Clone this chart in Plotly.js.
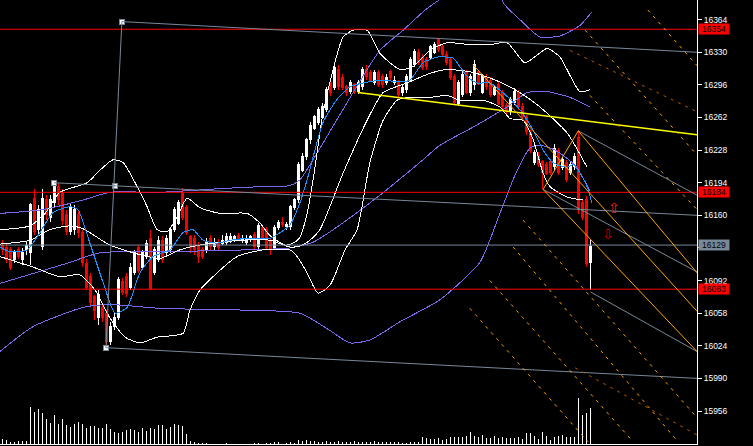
<!DOCTYPE html>
<html><head><meta charset="utf-8">
<script src="https://cdn.plot.ly/plotly-3.0.1.min.js"></script>
<style>html,body{margin:0;padding:0;background:#000;overflow:hidden}#chart{width:753px;height:446px}#chart .scatterlayer path,#chart .boxlayer path,#chart .barlayer path{shape-rendering:crispEdges}</style>
</head><body><div id="chart"></div>
<script>
// ---- bar data (index 0..147) ----
const barOpen = [16129,16126,16124,16114,16124,16114,16124,16121,16178,16145,
16127,16176,16158,16173,16190,16183,16161,16143,16145,16161,
16142,16110,16096,16075,16053,16064,16058,16028,16044,16054,
16091,16096,16085,16100,16126,16106,16117,16136,16100,16114,
16134,16121,16124,16145,16152,16183,16168,16138,16136,16129,
16124,16124,16136,16127,16132,16131,16132,16134,16135,16139,
16134,16132,16135,16140,16127,16147,16145,16134,16126,16147,
16153,16148,16148,16168,16176,16207,16221,16239,16251,16257,
16262,16270,16299,16293,16312,16304,16294,16289,16296,16289,
16294,16312,16309,16298,16309,16305,16298,16310,16298,16299,
16288,16291,16301,16317,16330,16325,16322,16325,16330,16343,
16336,16328,16322,16305,16277,16286,16309,16288,16296,16310,
16288,16304,16301,16286,16296,16288,16275,16268,16278,16288,
16273,16263,16246,16215,16223,16216,16213,16216,16211,16228,
16210,16215,16205,16211,16241,16173,16176,16111];
const barHigh = [16134,16131,16127,16124,16127,16126,16132,16173,16187,16171,
16187,16181,16181,16195,16194,16187,16166,16173,16171,16166,
16145,16114,16100,16077,16082,16069,16061,16049,16058,16096,
16095,16100,16110,16124,16129,16124,16134,16145,16127,16138,
16138,16140,16148,16169,16176,16189,16171,16140,16140,16132,
16127,16136,16140,16136,16135,16139,16142,16142,16140,16142,
16139,16139,16140,16143,16152,16150,16148,16136,16150,16155,
16158,16153,16171,16178,16216,16225,16241,16257,16265,16273,
16277,16294,16301,16317,16317,16307,16296,16301,16298,16301,
16315,16317,16312,16312,16312,16307,16307,16312,16305,16301,
16296,16307,16325,16333,16333,16328,16325,16338,16341,16345,
16338,16331,16325,16307,16301,16310,16312,16307,16322,16312,
16307,16307,16304,16296,16299,16291,16277,16283,16293,16291,
16277,16265,16249,16228,16226,16218,16216,16218,16234,16230,
16221,16218,16216,16225,16249,16176,16180,16134];
const barLow = [16119,16110,16103,16110,16114,16108,16119,16108,16139,16140,
16124,16155,16153,16169,16171,16150,16139,16139,16140,16136,
16106,16082,16064,16051,16046,16049,16023,16025,16040,16051,
16077,16075,16082,16098,16100,16103,16114,16082,16098,16111,
16110,16117,16121,16143,16150,16155,16139,16121,16119,16110,
16114,16121,16124,16124,16124,16129,16129,16131,16132,16134,
16131,16129,16132,16124,16124,16134,16124,16119,16124,16145,
16148,16145,16145,16166,16173,16205,16218,16234,16249,16254,
16260,16268,16284,16291,16291,16291,16284,16286,16286,16286,
16291,16301,16299,16296,16294,16293,16296,16301,16296,16283,
16284,16288,16299,16315,16317,16312,16312,16322,16328,16330,
16325,16317,16301,16275,16275,16283,16286,16284,16291,16296,
16286,16291,16283,16284,16275,16270,16265,16265,16275,16270,
16260,16244,16225,16213,16210,16187,16202,16202,16207,16202,
16207,16195,16202,16207,16161,16155,16106,16082];
const barClose = [16124,16114,16106,16121,16117,16121,16129,16171,16143,16166,
16178,16161,16176,16194,16176,16155,16143,16168,16166,16142,
16111,16085,16069,16061,16077,16054,16028,16044,16054,16093,
16080,16079,16106,16121,16103,16121,16131,16084,16124,16134,
16114,16136,16145,16166,16173,16158,16142,16126,16124,16117,
16117,16132,16127,16132,16126,16134,16138,16138,16138,16136,
16136,16136,16138,16127,16149,16136,16126,16124,16147,16153,
16150,16150,16169,16176,16213,16221,16239,16254,16263,16270,
16273,16291,16288,16314,16294,16293,16288,16298,16289,16298,
16312,16305,16301,16309,16296,16296,16304,16304,16301,16286,
16293,16305,16322,16331,16319,16314,16315,16336,16338,16333,
16328,16319,16304,16278,16299,16307,16288,16305,16317,16298,
16305,16294,16286,16293,16277,16273,16268,16281,16289,16273,
16263,16247,16228,16226,16213,16205,16204,16205,16230,16205,
16218,16197,16213,16221,16166,16158,16110,16127];
const barVolume = [50,43,23,23,33,33,33,367,323,353,
313,253,213,293,203,253,193,173,203,223,
203,163,183,183,163,163,203,153,123,113,
123,143,153,143,123,163,133,163,153,193,
193,153,173,203,193,183,103,33,23,13,
13,13,0,0,0,0,13,0,0,0,
0,0,0,13,13,0,13,13,23,23,
0,13,23,13,43,30,40,30,30,20,
20,30,20,20,30,20,20,20,30,20,
20,20,20,30,20,20,20,20,20,20,
13,13,23,23,23,73,63,53,53,63,
43,53,73,73,73,73,83,123,83,73,
93,63,63,83,63,73,63,63,63,73,
53,113,113,83,53,123,83,43,73,83,
93,73,73,73,463,293,313,363];
const barIndex = barClose.map((_, i) => i);

// ---- indicator lines (bar index, price) ----
const maFastIdx = [-0.7,1.8,6.1,9.3,12.6,16.8,18.8,21.8,25.1,28.1,31.1,34.3,37.6,41.8,45.1,47.6,50.1,53.6,56.8,61.8,66.8,68.6,71.8,74.3,76.1,80.1,83.6,86.8,90.1,95.1,99.3,101.8,105.1,108.6,111.1,112.6,116.1,118.6,121.8,126.1,129.3,132.6,135.1,137.6,141.1,142.6,144.3,146.1,147.3];
const maFastVal = [16127,16122,16124,16142,16163,16169,16166,16131,16090,16058,16064,16100,16117,16124,16142,16145,16134,16131,16134,16136,16136,16140,16150,16173,16197,16257,16281,16294,16298,16301,16299,16301,16319,16325,16325,16324,16305,16298,16298,16284,16270,16249,16228,16215,16210,16213,16204,16190,16173];

const bbLongUpIdx = [-0.7,10.1,20.1,26.8,39.3,55.1,65.1,71.8,74.3,77.6,84.3,94.3,100.1,105.6,109.3,116.8,123.1,125.6,129.3,134.3,139.3,144.3,147.3];
const bbLongUpVal = [16162,16166,16176,16184,16184,16188,16190,16191,16197,16218,16265,16332,16353,16374,16385,16405,16395,16379,16364,16346,16347,16358,16372];
const bbLongMidIdx = [-0.7,16.1,24.3,39.3,61.1,71.8,77.6,82.6,94.3,105.1,109.3,117.6,126.1,131.1,136.1,141.8,146.8];
const bbLongMidVal = [16089,16110,16121,16122,16124,16126,16132,16145,16181,16218,16233,16252,16273,16288,16289,16283,16273];
const bbLongLowIdx = [-0.7,7.6,20.1,26.8,39.3,61.8,74.3,81.8,86.8,91.8,99.3,109.3,119.3,124.3,128.1,131.8,134.3,138.1,143.1,146.8];
const bbLongLowVal = [16018,16044,16064,16067,16063,16061,16058,16040,16027,16030,16049,16072,16111,16162,16202,16230,16233,16228,16212,16186];

const bbUpIdx = [-0.7,6.8,10.6,14.3,21.1,24.3,27.6,30.1,33.6,36.1,38.6,41.1,43.6,46.1,49.3,54.3,61.1,64.3,66.8,70.6,72.6,74.3,76.1,77.6,80.1,82.6,85.1,87.6,91.1,94.3,99.3,102.6,106.8,111.1,116.8,121.8,126.1,130.6,136.1,139.3,144.3,146.8];
const bbUpVal = [16145,16149,16162,16184,16194,16207,16218,16215,16190,16169,16145,16143,16158,16178,16168,16162,16162,16152,16139,16129,16131,16137,16162,16197,16267,16312,16346,16353,16353,16329,16312,16315,16332,16340,16338,16338,16340,16319,16334,16325,16289,16291];
const bbMidIdx = [-0.7,6.8,11.8,16.8,20.1,26.8,34.3,39.3,44.3,49.3,59.3,66.8,71.8,74.3,76.8,79.3,85.1,91.1,95.1,101.1,106.8,111.1,117.6,124.3,129.3,134.3,141.1,146.1];
const bbMidVal = [16130,16134,16145,16149,16146,16129,16119,16115,16124,16129,16134,16134,16127,16128,16134,16145,16204,16259,16288,16298,16308,16312,16309,16299,16288,16273,16246,16210];
const bbLowIdx = [-0.7,7.6,14.3,19.3,23.1,26.8,30.6,34.3,38.6,45.1,46.8,49.3,51.8,58.6,65.1,71.8,73.6,76.1,78.8,81.8,85.6,88.6,91.8,95.1,98.6,101.8,106.8,111.1,114.3,120.1,124.3,126.8,130.1,132.6,135.1,136.8,141.1,145.1];
const bbLowVal = [16117,16106,16096,16098,16082,16053,16033,16027,16033,16037,16061,16082,16093,16117,16124,16124,16117,16100,16079,16087,16124,16145,16215,16259,16280,16283,16283,16285,16280,16280,16273,16261,16259,16239,16204,16190,16179,16176];

// ---- drawn objects: [x0, y0, x1, y1] in (bar index, price) ----
const redLevels = [16354, 16184, 16083];
const bidLevel = 16129;
const grayTrend = [[29.8,16362,173.6,16330],[29.8,16362,25.8,16022],[12.8,16194,173.6,16160],[25.8,16022,173.6,15990],[143.9,16248,173.6,16181],[135.1,16187,173.6,16101],[147,16080,173.6,16018]];
const anchorIdx = [29.8, 28.1, 12.8, 25.8];
const anchorVal = [16362, 16191, 16194, 16022];
const yellowTrend = [[88.8,16288,173.6,16244]];
const orangeTrend = [[117.6,16317,173.6,16060],[143.9,16248,173.6,16100],[135.1,16187,173.6,16018],[135.1,16187,143.9,16248]];
const orangeDash = [[161.3,16374,173.6,16316],[145.6,16353,173.6,16223],[146.8,16285,173.6,16166],
  [116.8,16063,146.3,15924],[121.8,16092,157.6,15924],[127.6,16127,168.8,15924],[130.1,16155,173.6,15949]];
const brownDash = [[141.8,16332,173.6,16268],[143.1,16001,173.6,15931]];
const arrowUp = [152.8, 16168];
const arrowDown = [151.3, 16141];
const tickVals = [16364,16330,16296,16262,16228,16194,16160,16126,16092,16058,16024,15990,15956];
const tickText = ['16364','16330','16296','16262','16228','16194','16160','','16092','16058','16024','15990','15956'];

const FONT = 'Liberation Sans, Arial, sans-serif';
const traces = [];
traces.push({type:'candlestick', x:barIndex, open:barOpen, high:barHigh, low:barLow, close:barClose,
  increasing:{line:{color:'#ffffff', width:1}, fillcolor:'#ffffff'},
  decreasing:{line:{color:'#ff0000', width:1}, fillcolor:'#ff0000'},
  whiskerwidth:0, hoverinfo:'skip'});
traces.push({type:'bar', x:barIndex, y:barVolume, yaxis:'y2', width:0.25,
  marker:{color:'#ffffff', line:{width:0}}, hoverinfo:'skip'});
function line(xs, ys, color, w, shape) {
  traces.push({type:'scatter', mode:'lines', x:xs, y:ys, hoverinfo:'skip',
    line:{color:color, width:w||1, shape:shape||'spline', smoothing:0.6}});
}
line(bbLongUpIdx, bbLongUpVal, '#7b68ee');
line(bbLongMidIdx, bbLongMidVal, '#7b68ee');
line(bbLongLowIdx, bbLongLowVal, '#7b68ee');
line(bbUpIdx, bbUpVal, '#ffffff');
line(bbMidIdx, bbMidVal, '#ffffff');
line(bbLowIdx, bbLowVal, '#ffffff');
line(maFastIdx, maFastVal, '#1e90ff');

const shapes = [];
function seg(s, color, w, dash) {
  shapes.push({type:'line', xref:'x', yref:'y', x0:s[0], y0:s[1], x1:s[2], y1:s[3],
    line:{color:color, width:w, dash:dash||'solid'}, layer:'above'});
}
redLevels.forEach(v => seg([-1, v, 174, v], '#ff0000', 1));
seg([-1, bidLevel, 174, bidLevel], '#778899', 1);
grayTrend.forEach(s => seg(s, '#778899', 1));
yellowTrend.forEach(s => seg(s, '#ffff00', 1.5));
orangeTrend.forEach(s => seg(s, '#ffa500', 1));
orangeDash.forEach(s => seg(s, '#ffa500', 1, '3px,5px'));
brownDash.forEach(s => seg(s, '#b35400', 1, '3px,5px'));

traces.push({type:'scatter', mode:'markers', x:anchorIdx, y:anchorVal, hoverinfo:'skip',
  marker:{symbol:'square', size:5, color:'#ffffff', line:{color:'#778899', width:1}}});

const annotations = [];
function priceBox(v, bg) {
  annotations.push({xref:'paper', x:1, xanchor:'left', xshift:1, yref:'y', y:v, yanchor:'middle',
    text:String(v), showarrow:false, bgcolor:bg, width:30, height:10, borderpad:0,
    font:{family:FONT, size:8.5, color:'#000000'}});
}
redLevels.forEach(v => priceBox(v, '#ff0000'));
priceBox(bidLevel, '#778899');
annotations.push({xref:'x', yref:'y', x:arrowUp[0], y:arrowUp[1], text:'⇧', showarrow:false,
  font:{family:'DejaVu Sans', size:14, color:'#ff2020'}});
annotations.push({xref:'x', yref:'y', x:arrowDown[0], y:arrowDown[1], text:'⇩', showarrow:false,
  font:{family:'DejaVu Sans', size:14, color:'#d00000'}});

const layout = {
  width:753, height:446, margin:{l:0, r:56, t:0, b:2, pad:0},
  paper_bgcolor:'#000000', plot_bgcolor:'#000000', showlegend:false,
  xaxis:{range:[-0.675, 173.575], showgrid:false, zeroline:false, showticklabels:false, ticks:'',
    showline:true, linecolor:'#ffffff', linewidth:1, rangeslider:{visible:false}, fixedrange:true},
  yaxis:{range:[15921.6, 16384.5], side:'right', showgrid:false, zeroline:false, showline:true,
    linecolor:'#ffffff', linewidth:1, ticks:'outside', ticklen:4, tickcolor:'#ffffff',
    tickvals:tickVals, ticktext:tickText,
    tickfont:{family:FONT, size:8.5, color:'#ffffff'}, fixedrange:true},
  yaxis2:{range:[0, 4440], overlaying:'y', visible:false, fixedrange:true},
  shapes:shapes, annotations:annotations, hovermode:false
};
Plotly.newPlot('chart', traces, layout, {displayModeBar:false, staticPlot:true});
</script></body></html>
